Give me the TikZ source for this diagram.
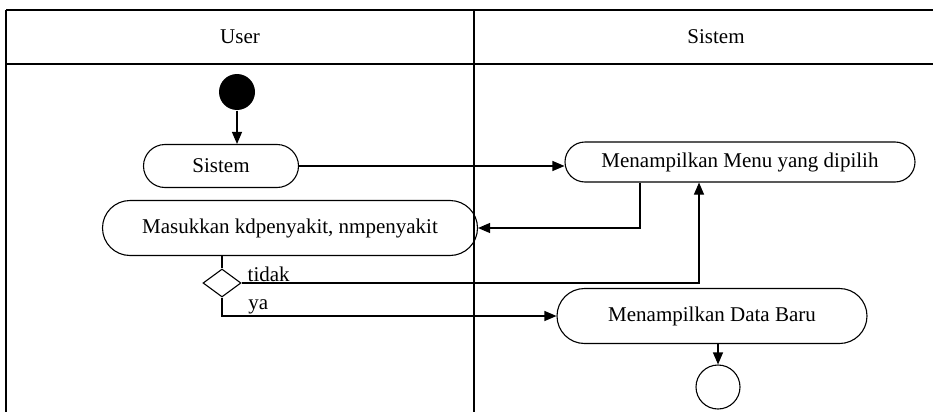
\documentclass[tikz,border=0pt]{standalone}
\usepackage{fontspec}
\setmainfont{Liberation Serif}
\usepackage{tikz}
\usetikzlibrary{shapes.geometric,arrows.meta,calc}

\begin{document}
\begin{tikzpicture}[x=1pt, y=-1pt, line width=1.1pt,
font = \fontsize{21}{24}\selectfont]

\tikzset{
	activity/.style = {
		draw, rectangle, rounded corners = #1, inner sep = 0pt
	},
	flow/.style = {
		-{Triangle[length=12pt, width=10pt]}
	},
	decision/.style = {
		draw, diamond, aspect = 1.35, minimum width = 38pt, minimum height = 28pt, inner sep = 0pt
	}
}

\useasboundingbox (0,0) rectangle (933,412);

% Swimlane
\draw (6,10) -- (933,10);
\draw (6,64) -- (933,64);
\draw (6,10) -- (6,412);
\draw (474,10) -- (474,412);
\node (hUser) at (240,37) {User};
\node (hSistem) at (716,37) {Sistem};

\node[circle, fill = black, minimum size = 36pt, inner sep = 0pt] (start) at (237,92) {}; % Mulai
\node[activity = 21.5pt, minimum width = 155pt, minimum height = 43pt] (sistem) at (221,166) {Sistem};
\node[activity = 27.5pt, minimum width = 375pt, minimum height = 55pt] (masuk) at (290,228) {Masukkan kdpenyakit, nmpenyakit};
\node[decision] (dec) at (222,283) {};
\node[activity = 20pt, minimum width = 350pt, minimum height = 40pt] (menu) at (740,162) {Menampilkan Menu yang dipilih};
\node[activity = 27.5pt, minimum width = 310pt, minimum height = 55pt] (data) at (712,316) {Menampilkan Data Baru};
\node[circle, draw, minimum size = 44pt, inner sep = 0pt] (end) at (718,387) {}; % Selesai

\draw[flow] (start) -- (start |- sistem.north);
\draw[flow] (sistem.east) -- (sistem.east -| menu.west);
\draw[flow] ([xshift = -100pt]menu.south) |- (masuk.east);
\draw (dec.north |- masuk.south) -- (dec.north);
\draw[flow] (dec.east) -| node[pos = 0.005, anchor = south west, inner sep = 1pt] (lTidak) {tidak} ([xshift = -41pt]menu.south);
\draw[flow] (dec.south) |- node[pos = 0.537, anchor = south west, inner sep = 1pt] (lYa) {ya} (data.west);
\draw[flow] (end.north |- data.south) -- (end);
\end{tikzpicture}
\end{document}
